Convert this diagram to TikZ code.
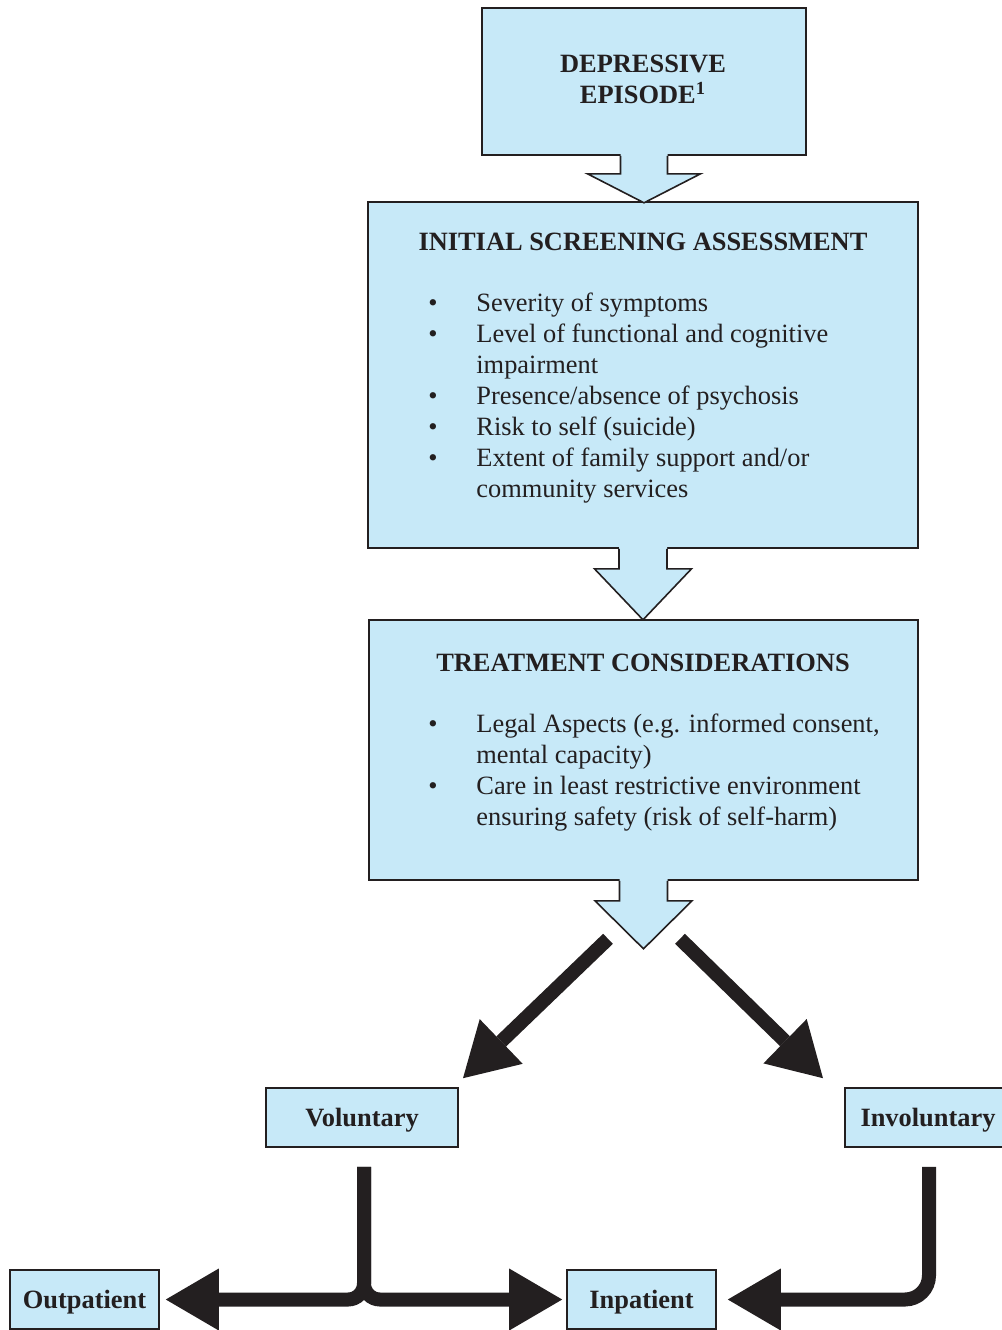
\documentclass[tikz,border=0pt]{standalone}
\usepackage{fontspec}
\setmainfont{Liberation Serif}
\usetikzlibrary{arrows.meta,calc}
\definecolor{boxfill}{RGB}{199,233,248}
\definecolor{ink}{RGB}{35,31,32}
% block arrow: #1 start anchor, #2 half stem, #3 stem length, #4 half head, #5 head length
\newcommand\mybarrow[5]{%
  \fill[boxfill] ($(#1)+(-#2,-2)$) -- ($(#1)+(-#2,#3)$) -- ($(#1)+(-#4,#3)$) -- ($(#1)+(0,{#3+#5})$) -- ($(#1)+(#4,#3)$) -- ($(#1)+(#2,#3)$) -- ($(#1)+(#2,-2)$) -- cycle;
  \draw[boxline] ($(#1)+(-#2,0)$) -- ($(#1)+(-#2,#3)$) -- ($(#1)+(-#4,#3)$) -- ($(#1)+(0,{#3+#5})$) -- ($(#1)+(#4,#3)$) -- ($(#1)+(#2,#3)$) -- ($(#1)+(#2,0)$);}
\begin{document}
\begin{tikzpicture}[x=0.5pt,y=-0.5pt,
  boxline/.style={draw=ink, line width=0.8pt, line join=miter},
  box/.style={boxline, fill=boxfill, inner sep=0pt},
  title/.style={text=ink, inner sep=0pt, font=\bfseries\fontsize{13.2}{15.5}\selectfont},
  listtext/.style={text=ink, inner sep=0pt, font=\fontsize{13.2}{15.5}\selectfont},
  blk/.style={draw=ink, line width=7pt, -{Triangle[length=26.5pt,width=31pt,line width=0pt]}},
  smallbox/.style={box, minimum height=29.5pt, text=ink, text height=8.7pt, text depth=0pt, font=\bfseries\fontsize{13.2}{15.5}\selectfont}
]
\useasboundingbox (0,0) rectangle (1002,1330);
\clip (0,0) rectangle (1002,1330);

% main boxes
\node[box, minimum width=162pt, minimum height=73.5pt] (b1) at (644,81.5) {};
\node[box, minimum width=275pt, minimum height=173pt] (b2) at (643,375) {};
\node[box, minimum width=274.5pt, minimum height=130pt] (b3) at (643.5,750) {};

% block arrows
\mybarrow{b1.south}{23.5}{18}{56.5}{29}
\mybarrow{b2.south}{24}{20}{48.5}{51}
\mybarrow{b3.south}{24}{20}{48.5}{48}

% texts
\node[title, align=center] (t1) at (643,79) {DEPRESSIVE\\EPISODE\textsuperscript{1}};
\node[title, anchor=base] (t2) at (643,250) {INITIAL SCREENING ASSESSMENT};
\node[listtext, anchor=north west] (l2) at (428,289) {%
  \begin{tabular}{@{}p{24pt}@{}l@{}}
  \textbullet & Severity of symptoms\\
  \textbullet & Level of functional and cognitive\\
              & impairment\\
  \textbullet & Presence/absence of psychosis\\
  \textbullet & Risk to self (suicide)\\
  \textbullet & Extent of family support and/or\\
              & community services
  \end{tabular}};
\node[title, anchor=base] (t3) at (643,671) {TREATMENT CONSIDERATIONS};
\node[listtext, anchor=north west] (l3) at (428,710) {%
  \begin{tabular}{@{}p{24pt}@{}l@{}}
  \textbullet & Legal Aspects (e.g. informed consent,\\
              & mental capacity)\\
  \textbullet & Care in least restrictive environment\\
              & ensuring safety (risk of self-harm)
  \end{tabular}};

% decision boxes
\node[smallbox, minimum width=96pt] (vol) at (362,1117.5) {Voluntary};
\node[smallbox, minimum width=83pt] (inv) at (928,1117.5) {Involuntary};
\node[smallbox, minimum width=74.5pt] (out) at (84.5,1299.5) {Outpatient};
\node[smallbox, minimum width=74.5pt] (inp) at (641.5,1299.5) {Inpatient};

% connectors
\coordinate (dl) at ($(b3.south)+(-35.5,58)$);
\coordinate (dr) at ($(b3.south)+(36.5,58)$);
\draw[blk] (dl) -- ($(vol.north)+(101,-9)$);
\draw[blk] (dr) -- ($(inv.north)+(-105,-9)$);
\draw[blk, rounded corners=8pt] ($(vol.south)+(2,19)$) |- ($(out.east)+(6,0)$);
\draw[blk, rounded corners=8pt] ($(vol.south)+(2,19)$) |- ($(inp.west)+(-4,0)$);
\draw[blk, rounded corners=12pt] ($(inv.south)+(1,19)$) |- ($(inp.east)+(11,0)$);
\end{tikzpicture}
\end{document}
